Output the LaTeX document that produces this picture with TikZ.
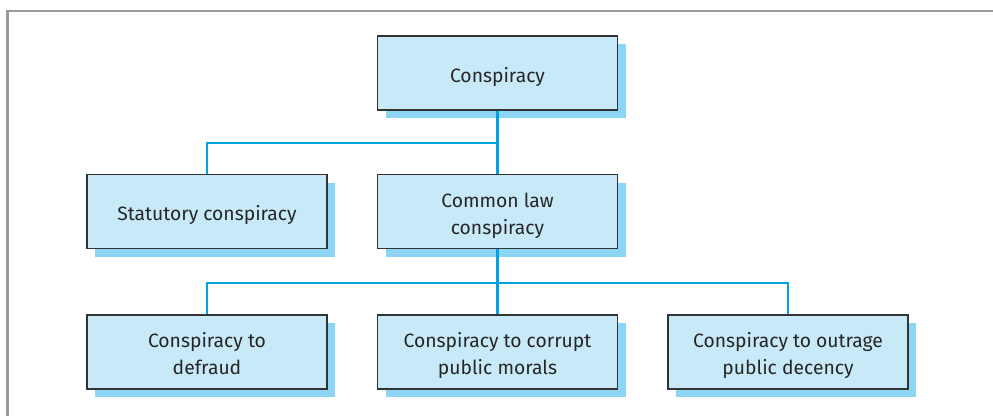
\documentclass[tikz,border=0pt]{standalone}
\usepackage{fontspec}
\setmainfont{Fira Sans}
\usetikzlibrary{shadows}
\definecolor{boxfill}{HTML}{C8E9F8}
\definecolor{shadowblue}{HTML}{8DD5F4}
\definecolor{linkblue}{HTML}{00A3E0}
\definecolor{framegrey}{HTML}{9A9A9C}
\definecolor{edgegrey}{HTML}{333333}
\newcommand{\btxt}[1]{\raisebox{-9pt}[0pt][0pt]{\begin{tabular}{@{}c@{}}#1\end{tabular}}}
\begin{document}
\begin{tikzpicture}[x=1pt,y=-1pt,
  cbox/.style={draw=edgegrey, line width=1.1pt, fill=boxfill, minimum width=240pt, minimum height=74pt,
    align=center, font=\fontsize{19.3}{27}\selectfont, text=black!85,
    drop shadow={shadow xshift=8pt, shadow yshift=-8pt, fill=shadowblue, opacity=1}},
  link/.style={draw=linkblue, line width=2.4pt}]
\useasboundingbox (0,0) rectangle (993,416);
\draw[framegrey, line width=2.5pt] (7.5,416) -- (7.5,11) -- (993,11);
\node[cbox] (top) at (497.5,73) {\btxt{Conspiracy}};
\node[cbox] (stat) at (207,211.5) {\btxt{Statutory conspiracy}};
\node[cbox] (cl) at (497.5,211.5) {\btxt{Common law\\conspiracy}};
\node[cbox] (def) at (207,352) {\btxt{Conspiracy to\\defraud}};
\node[cbox] (cor) at (497.5,352) {\btxt{Conspiracy to corrupt\\public morals}};
\node[cbox] (out) at (788,352) {\btxt{Conspiracy to outrage\\public decency}};
\coordinate (j1) at (497.5,143);
\coordinate (j2) at (497.5,283);
\draw[link] (top.south) -- (cl.north);
\draw[link] (j1) -| (stat.north);
\draw[link] (cl.south) -- (cor.north);
\draw[link] (j2) -| (def.north);
\draw[link] (j2) -| (out.north);
\end{tikzpicture}
\end{document}
